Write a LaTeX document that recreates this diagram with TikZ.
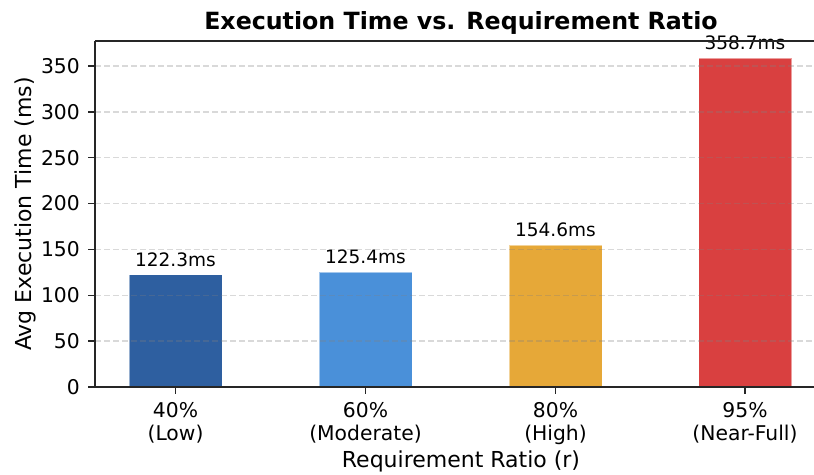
\documentclass[tikz,border=0pt]{standalone}
\usepackage{fontspec}
\setmainfont{DejaVu Sans}
\definecolor{barLow}{HTML}{2E5FA0}
\definecolor{barMod}{HTML}{4A90D9}
\definecolor{barHigh}{HTML}{E6A838}
\definecolor{barFull}{HTML}{D94040}
\definecolor{spine}{HTML}{262626}
\begin{document}
\begin{tikzpicture}[x=1pt,y=-1pt,
  spineline/.style={draw=spine,line width=1.5pt},
  gridline/.style={draw=gray,draw opacity=0.3,line width=1.3pt,dash pattern=on 6pt off 3pt},
  bar/.style={draw=white,draw opacity=0.5,line width=0.8pt},
  ticklbl/.style={inner sep=0pt,font=\fontsize{20.3}{23}\selectfont},
  valuelbl/.style={inner sep=0pt,anchor=base,font=\fontsize{18.5}{20}\selectfont},
  axislbl/.style={inner sep=0pt,anchor=base,font=\fontsize{22}{24}\selectfont},
  titlelbl/.style={inner sep=0pt,anchor=base,font=\fontsize{23.7}{26}\selectfont\bfseries}]
\useasboundingbox (0,0) rectangle (814,474);
% value v sits at y = 387 - 0.9171 v
\pgfmathsetmacro{\ys}{0.9171}

% bars
\foreach \cx/\val/\col/\nm in {175.5/122.3/barLow/b1, 365.5/125.4/barMod/b2, 555.5/154.6/barHigh/b3, 745/358.7/barFull/b4}{
  \path[bar,fill=\col] (\cx-46.5,387) rectangle (\cx+46.5,387-\ys*\val);
  \node[valuelbl] (\nm) at (\cx,387-\ys*\val-8.5) {\val ms};
}

% grid on top of bars
\foreach \v in {50,100,...,350}{
  \draw[gridline] (95,387-\ys*\v) -- (814,387-\ys*\v);
}

% spines
\draw[spineline] (95,41) -- (95,387) -- (814,387);
\draw[spineline] (95,41) -- (814,41);

% y ticks and labels
\foreach \v in {0,50,...,350}{
  \draw[spine,line width=1.3pt] (88,387-\ys*\v) -- (95,387-\ys*\v);
  \node[ticklbl,anchor=base east] (y\v) at (80,387-\ys*\v+7.3) {\v};
}

% x ticks and labels
\foreach \cx/\pc/\lv/\nm in {175.5/40/Low/x1, 365.5/60/Moderate/x2, 555.5/80/High/x3, 745/95/Near-Full/x4}{
  \draw[spine,line width=1.3pt] (\cx,387) -- (\cx,394);
  \node[ticklbl,align=center,anchor=north] (\nm) at (\cx,402) {\pc\%\\(\lv)};
}

% axis labels and title
\node[axislbl] (xlab) at (461,467) {Requirement Ratio (r)};
\node[axislbl,rotate=90] (ylab) at (31.5,214) {Avg Execution Time (ms)};
\node[titlelbl] (title) at (461,29) {Execution Time vs. Requirement Ratio};
\end{tikzpicture}
\end{document}
